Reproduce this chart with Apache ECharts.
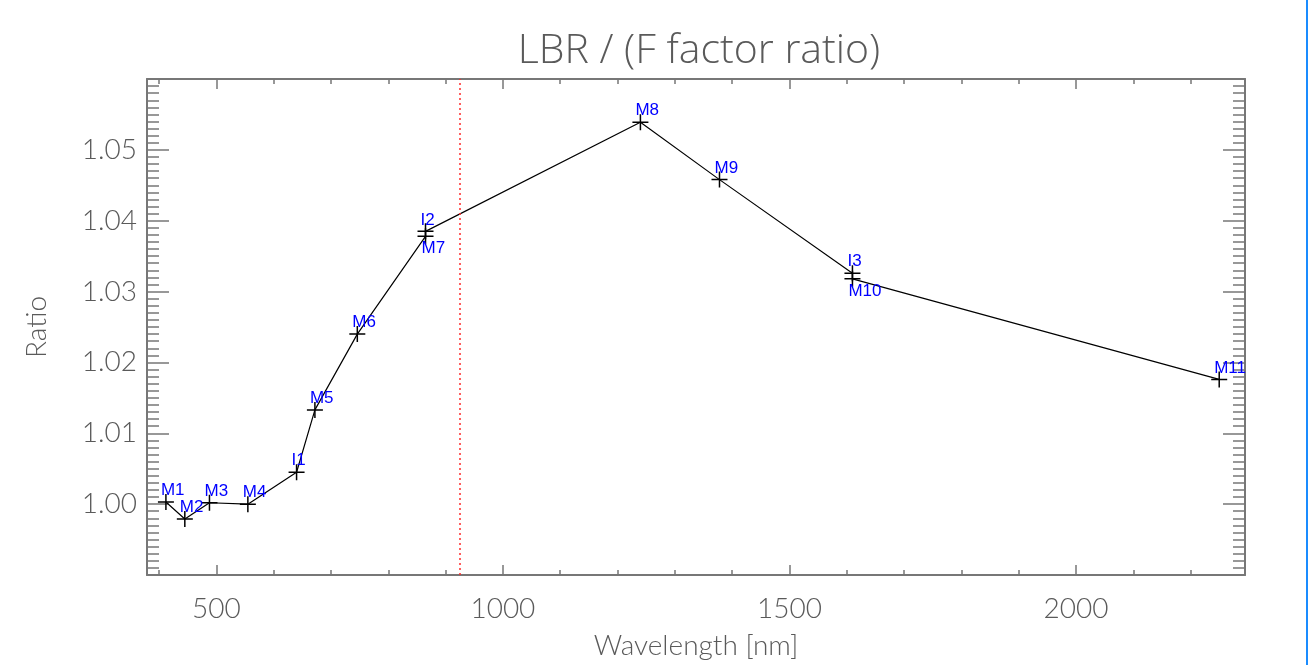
<!DOCTYPE html>
<html lang="en">
<head>
    <meta charset="UTF-8">
    <title>LBR / (F factor ratio)</title>
    <script src="https://cdn.jsdelivr.net/npm/echarts@6/dist/echarts.min.js"></script>
    <style>
        html, body { margin: 0; padding: 0; background: #fff; }
        #chart { width: 1312px; height: 665px; }
    </style>
</head>
<body>
    <div id="chart"></div>

    <script>
        // Bands in the order the line is drawn
        const bandNames = ['M1', 'M2', 'M3', 'M4', 'I1', 'M5', 'M6', 'M7', 'I2', 'M8', 'M9', 'I3', 'M10', 'M11'];
        const wavelengths = [412, 445, 488, 555, 640, 672, 746, 865, 865, 1240, 1378, 1610, 1610, 2250];
        const ratios = [1.0003, 0.9979, 1.0002, 1.0000, 1.0045, 1.0133, 1.0240, 1.0378, 1.0385, 1.0539, 1.0458, 1.0326, 1.0318, 1.0176];

        // Axis ticks
        const xTickValues = [500, 1000, 1500, 2000];
        const xMinorTickValues = [400, 600, 700, 800, 900, 1100, 1200, 1300, 1400, 1600, 1700, 1800, 1900, 2100, 2200];
        const yTickValues = [1.00, 1.01, 1.02, 1.03, 1.04, 1.05];
        const cutWavelength = 925;   // red dotted marker

        // labels drawn under the point instead of above
        const labelsBelow = ['M7', 'M10'];

        const X_MIN = 379, X_MAX = 2295;
        const Y_MIN = 0.99, Y_MAX = 1.06;

        // minor ticks every 0.001 on the ratio axis
        const yMinorTickValues = [];
        for (let i = 991; i < 1060; i++) {
            if (i % 10 !== 0) yMinorTickValues.push(i / 1000);
        }

        const gray = '#5a5a5a';
        const font = 'Lato, "DejaVu Sans", sans-serif';
        const plus = 'path://M7.25,0h1.5v16h-1.5zM0,7.25h16v1.5h-16z';
        const gridBox = { left: 147, right: 67, top: 79, bottom: 90 };

        function xAxisDef(gridIndex, position, ticks, len, withLabels) {
            return {
                type: 'value', gridIndex: gridIndex, position: position,
                min: X_MIN, max: X_MAX,
                name: withLabels ? 'Wavelength [nm]' : '',
                nameLocation: 'middle', nameGap: 57,
                nameTextStyle: { color: gray, fontSize: 28, fontFamily: font, fontWeight: 300 },
                axisLine: { show: gridIndex === 0, onZero: false, lineStyle: { color: '#777', width: 2 } },
                axisTick: { show: true, inside: true, length: len, customValues: ticks,
                            lineStyle: { color: '#777', width: 1.5 } },
                axisLabel: { show: withLabels, customValues: ticks, margin: 20,
                             formatter: v => String(v),
                             color: gray, fontSize: 28, fontFamily: font, fontWeight: 300 },
                splitLine: { show: false }
            };
        }

        function yAxisDef(gridIndex, position, ticks, len, withLabels) {
            return {
                type: 'value', gridIndex: gridIndex, position: position,
                min: Y_MIN, max: Y_MAX,
                name: withLabels ? 'Ratio' : '',
                nameLocation: 'middle', nameGap: 96,
                nameTextStyle: { color: gray, fontSize: 28, fontFamily: font, fontWeight: 300 },
                axisLine: { show: gridIndex === 0, onZero: false, lineStyle: { color: '#777', width: 2 } },
                axisTick: { show: true, inside: true, length: len, customValues: ticks,
                            lineStyle: { color: '#777', width: 1.5 } },
                axisLabel: { show: withLabels, customValues: ticks, margin: 10,
                             formatter: v => v.toFixed(2),
                             color: gray, fontSize: 28, fontFamily: font, fontWeight: 300 },
                splitLine: { show: false }
            };
        }

        const points = bandNames.map((name, i) => {
            const below = labelsBelow.includes(name);
            return {
                name: name,
                value: [wavelengths[i], ratios[i]],
                label: below
                    ? { position: [4, 12], align: 'left', verticalAlign: 'top' }
                    : { position: [3, 5], align: 'left', verticalAlign: 'bottom' }
            };
        });

        const chart = echarts.init(document.getElementById('chart'));

        chart.setOption({
            animation: false,
            backgroundColor: '#fff',
            title: {
                text: 'LBR / (F factor ratio)',
                left: 694, top: 26, textAlign: 'center',
                textStyle: { color: gray, fontSize: 41, fontFamily: '"Open Sans", Lato, sans-serif', fontWeight: 300 }
            },
            grid: [
                Object.assign({}, gridBox),
                Object.assign({}, gridBox)
            ],
            xAxis: [
                xAxisDef(0, 'bottom', xTickValues, 10, true),
                xAxisDef(0, 'top', xTickValues, 10, false),
                xAxisDef(1, 'bottom', xMinorTickValues, 5, false),
                xAxisDef(1, 'top', xMinorTickValues, 5, false)
            ],
            yAxis: [
                yAxisDef(0, 'left', yTickValues, 22, true),
                yAxisDef(0, 'right', yTickValues, 22, false),
                yAxisDef(1, 'left', yMinorTickValues, 12, false),
                yAxisDef(1, 'right', yMinorTickValues, 12, false)
            ],
            graphic: [{
                type: 'rect',
                shape: { x: 1306, y: 0, width: 2, height: 665 },
                style: { fill: '#1a8cff' }
            }],
            series: [{
                type: 'line',
                xAxisIndex: 0, yAxisIndex: 0,
                data: points,
                symbol: plus,
                symbolSize: 16,
                itemStyle: { color: '#000' },
                lineStyle: { color: '#000', width: 1.2 },
                label: {
                    show: true,
                    formatter: p => p.name,
                    color: '#0000ff',
                    fontSize: 17,
                    fontFamily: '"Liberation Sans", Arial, sans-serif'
                },
                markLine: {
                    silent: true,
                    symbol: 'none',
                    label: { show: false },
                    lineStyle: { color: '#ff2a2a', type: [2, 3], width: 1.5 },
                    data: [{ xAxis: cutWavelength }]
                }
            }]
        });
    </script>
</body>
</html>
